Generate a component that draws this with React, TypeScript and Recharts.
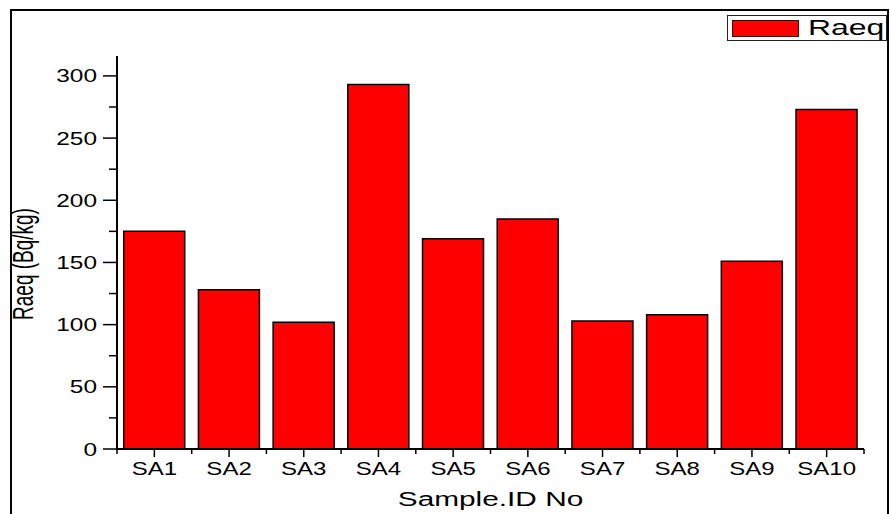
import React from "react";
import { BarChart, Bar, XAxis, YAxis, Legend, Label } from "recharts";

const samples = ["SA1", "SA2", "SA3", "SA4", "SA5", "SA6", "SA7", "SA8", "SA9", "SA10"];
const raeq = [175, 128, 102, 293, 169, 185, 103, 108, 151, 273];
const yTicks = [0, 25, 50, 75, 100, 125, 150, 175, 200, 225, 250, 275, 300];

const data = samples.map((name, i) => ({ name, raeq: raeq[i] }));

const FONT = "'Liberation Sans', Arial, sans-serif";

function YTick(props: any) {
  const { x, y, payload } = props;
  const major = payload.value % 50 === 0;
  return (
    <g>
      <line x1={x - (major ? 14 : 8)} x2={x} y1={y} y2={y} stroke="#000" strokeWidth={1.5} />
      {major && (
        <text
          transform={`translate(${x - 20},${y + 6.5}) scale(1.32,1)`}
          textAnchor="end"
          fontSize={18.5}
          fontFamily={FONT}
          fill="#000"
        >
          {payload.value}
        </text>
      )}
    </g>
  );
}

function XTick(props: any) {
  const { x, y, payload, index } = props;
  const half = payload.offset || 0;
  const last = index === samples.length - 1;
  return (
    <g>
      <line x1={x} x2={x} y1={y} y2={y + 8} stroke="#000" strokeWidth={1.5} />
      <line x1={x - half} x2={x - half} y1={y} y2={y + 5} stroke="#000" strokeWidth={1.5} />
      {last && <line x1={x + half} x2={x + half} y1={y} y2={y + 5} stroke="#000" strokeWidth={1.5} />}
      <text
        transform={`translate(${x},${y + 26}) scale(1.32,1)`}
        textAnchor="middle"
        fontSize={18.2}
        fontFamily={FONT}
        fill="#000"
      >
        {payload.value}
      </text>
    </g>
  );
}

function LegendBox(props: any) {
  const item = props.payload && props.payload[0];
  return (
    <div
      style={{
        boxSizing: "border-box",
        width: 160,
        height: 26,
        border: "1.5px solid #222",
        background: "#fff",
        display: "flex",
        alignItems: "center",
        fontFamily: FONT,
      }}
    >
      <span
        style={{
          boxSizing: "border-box",
          width: 67,
          height: 17,
          marginLeft: 4,
          background: "#ff0000",
          border: "1px solid #400",
        }}
      />
      <span
        style={{
          marginLeft: 9,
          fontSize: 22,
          lineHeight: 1,
          display: "inline-block",
          transform: "scaleX(1.45)",
          transformOrigin: "left center",
          color: "#000",
        }}
      >
        {item ? item.value : "Raeq"}
      </span>
    </div>
  );
}

export default function App() {
  return (
    <div style={{ position: "absolute", left: 0, top: 0, width: 890, height: 514, overflow: "hidden", background: "#fff" }}>
      <div
        style={{
          position: "absolute",
          left: 10,
          top: 9,
          width: 879,
          height: 600,
          border: "2.5px solid #000",
          boxSizing: "border-box",
        }}
      />
      <div style={{ position: "absolute", left: 0, top: 0 }}>
        <BarChart
          width={890}
          height={514}
          data={data}
          margin={{ top: 56, right: 26, left: 0, bottom: 0 }}
          barCategoryGap="9%"
        >
          <XAxis
            dataKey="name"
            height={65}
            interval={0}
            tickSize={0}
            tickMargin={0}
            tickLine={false}
            axisLine={{ stroke: "#000", strokeWidth: 2 }}
            tick={<XTick />}
          >
            <Label
              content={(p: any) => {
                const vb = p.viewBox;
                return (
                  <text
                    transform={`translate(${vb.x + vb.width / 2},${vb.y + 57}) scale(1.42,1)`}
                    textAnchor="middle"
                    fontSize={21}
                    fontFamily={FONT}
                    fill="#000"
                  >
                    Sample.ID No
                  </text>
                );
              }}
            />
          </XAxis>
          <YAxis
            width={117}
            domain={[0, 316]}
            ticks={yTicks}
            interval={0}
            tickSize={0}
            tickMargin={0}
            tickLine={false}
            axisLine={{ stroke: "#000", strokeWidth: 2 }}
            tick={<YTick />}
          >
            <Label
              content={(p: any) => {
                const vb = p.viewBox;
                return (
                  <text
                    transform={`translate(${vb.x + 33},${vb.y + vb.height / 2 + 11.5}) scale(1.55,1) rotate(-90)`}
                    textAnchor="middle"
                    fontSize={19}
                    fontFamily={FONT}
                    fill="#000"
                  >
                    Raeq (Bq/kg)
                  </text>
                );
              }}
            />
          </YAxis>
          <Legend
            layout="vertical"
            align="center"
            verticalAlign="middle"
            wrapperStyle={{ left: 727, top: 15, width: 160, height: 26 }}
            content={<LegendBox />}
          />
          <Bar
            dataKey="raeq"
            name="Raeq"
            fill="#ff0000"
            stroke="#000"
            strokeWidth={1.5}
            isAnimationActive={false}
          />
        </BarChart>
      </div>
    </div>
  );
}
